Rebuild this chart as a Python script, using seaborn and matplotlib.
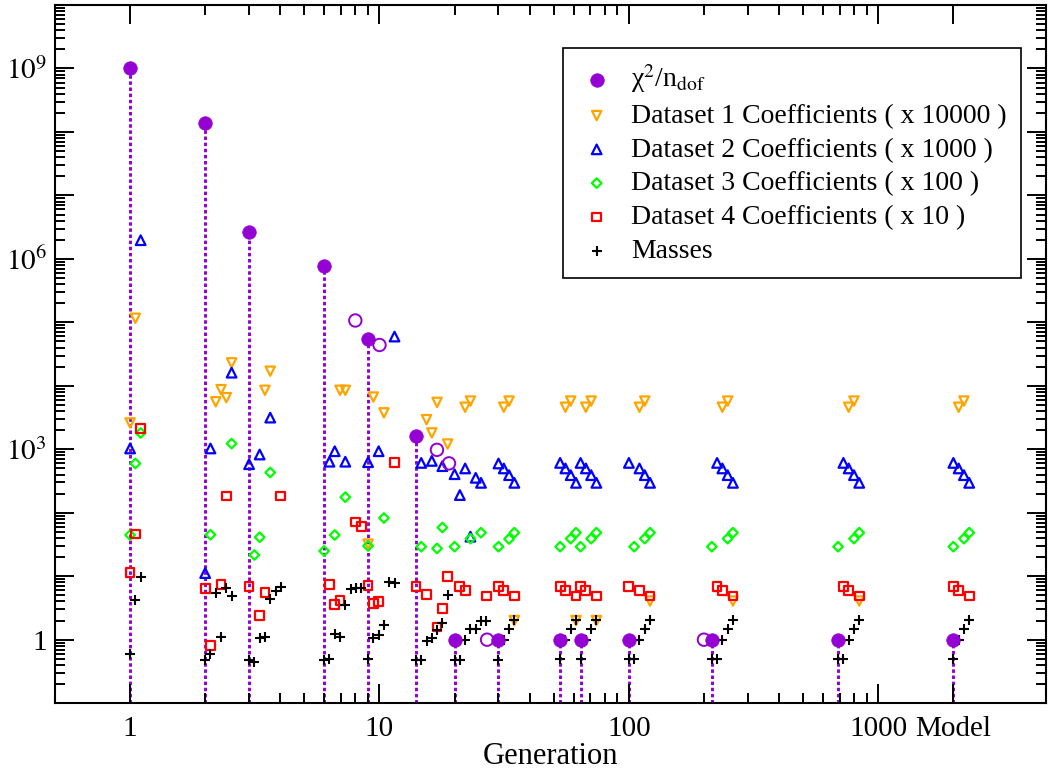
import matplotlib
matplotlib.use('Agg')
import matplotlib.pyplot as plt
import matplotlib.ticker as mticker
import numpy as np
import pandas as pd
import seaborn as sns

# generations where the fit was evaluated (2000 is the "Model" column)
generations = [1, 2, 3, 6, 9, 14, 20, 30, 53, 64, 100, 215, 690, 2000]
chi2_ndof = [1.0e9, 1.36e8, 2.67e6, 7.6e5, 5.5e4, 1.6e3, 1.0, 1.0, 1.0, 1.0, 1.0, 1.0, 1.0, 1.0]

# other trial fits (open circles, no legend entry)
trial_gen = [8, 10, 17, 19, 27, 200]
trial_chi2 = [1.07e5, 4.4e4, 980, 600, 1.0, 1.0]

# (generation, parameter index, value)
dataset1 = [(1, 0, 2600), (1, 1, 1.16e5),
            (2, 2, 5600), (2, 3, 8700), (2, 4, 6500), (2, 5, 2.3e4),
            (3, 3, 8500), (3, 4, 1.7e4),
            (6, 3, 8500), (6, 4, 8500),
            (9, 0, 32), (9, 1, 6650), (9, 3, 3750),
            (14, 2, 2930), (14, 3, 1810), (14, 4, 5480), (14, 6, 1210),
            (20, 2, 4600), (20, 3, 5750),
            (30, 1, 4600), (30, 2, 5750), (30, 3, 2.0),
            (53, 1, 4600), (53, 2, 5750), (53, 3, 2.0),
            (64, 1, 4600), (64, 2, 5750), (64, 3, 2.0),
            (100, 2, 4600), (100, 3, 5750), (100, 4, 4.06),
            (215, 2, 4600), (215, 3, 5750), (215, 4, 4.06),
            (690, 2, 4600), (690, 3, 5750), (690, 4, 4.06),
            (2000, 1, 4600), (2000, 2, 5750)]

dataset2 = [(1, 0, 1030), (1, 2, 1.97e6),
            (2, 0, 11.2), (2, 1, 1030), (2, 5, 1.61e4),
            (3, 0, 582), (3, 2, 827), (3, 4, 3155),
            (6, 1, 637), (6, 2, 932), (6, 4, 637),
            (9, 0, 626), (9, 2, 932), (9, 5, 5.97e4),
            (14, 1, 610), (14, 3, 656), (14, 5, 542),
            (20, 0, 405), (20, 1, 190), (20, 2, 499), (20, 3, 42), (20, 4, 355), (20, 5, 296),
            (30, 0, 597), (30, 1, 499), (30, 2, 391), (30, 3, 296),
            (53, 0, 610), (53, 1, 499), (53, 2, 391), (53, 3, 296),
            (64, 0, 610), (64, 1, 499), (64, 2, 391), (64, 3, 296),
            (100, 0, 610), (100, 2, 499), (100, 3, 391), (100, 4, 296),
            (215, 1, 610), (215, 2, 499), (215, 3, 391), (215, 4, 296),
            (690, 1, 610), (690, 2, 499), (690, 3, 391), (690, 4, 296),
            (2000, 0, 610), (2000, 1, 499), (2000, 2, 391), (2000, 3, 296)]

dataset3 = [(1, 0, 44.6), (1, 1, 597), (1, 2, 1810),
            (2, 1, 45.1), (2, 5, 1230),
            (3, 1, 21.6), (3, 2, 41.1), (3, 4, 431),
            (6, 0, 25.0), (6, 2, 44.6), (6, 4, 176),
            (9, 0, 30.0), (9, 3, 82.6),
            (14, 1, 29.2), (14, 4, 27.4), (14, 5, 58.5),
            (20, 0, 29.2), (20, 3, 39.1), (20, 5, 48.5),
            (30, 0, 29.2), (30, 2, 38.6), (30, 3, 48.5),
            (53, 0, 29.2), (53, 2, 39.1), (53, 3, 48.5),
            (64, 0, 29.2), (64, 2, 39.1), (64, 3, 48.5),
            (100, 1, 29.2), (100, 3, 39.1), (100, 4, 48.5),
            (215, 0, 29.2), (215, 3, 39.1), (215, 4, 48.5),
            (690, 0, 29.2), (690, 3, 39.1), (690, 4, 48.5),
            (2000, 0, 29.2), (2000, 2, 39.1), (2000, 3, 48.5)]

dataset4 = [(1, 0, 11.3), (1, 1, 46.3), (1, 2, 2120),
            (2, 0, 6.4), (2, 1, 0.80), (2, 3, 7.39), (2, 4, 183),
            (3, 0, 6.88), (3, 2, 2.38), (3, 3, 5.48), (3, 6, 183),
            (6, 1, 7.31), (6, 2, 3.55), (6, 3, 4.14), (6, 6, 71.4), (6, 7, 60.7),
            (9, 0, 7.13), (9, 1, 3.68), (9, 2, 3.95), (9, 5, 626),
            (14, 0, 6.80), (14, 2, 5.15), (14, 4, 1.58), (14, 5, 3.10), (14, 6, 9.77),
            (20, 1, 6.88), (20, 2, 5.89), (20, 6, 4.86),
            (30, 0, 6.88), (30, 1, 5.89), (30, 3, 4.86),
            (53, 0, 6.88), (53, 1, 5.89), (53, 3, 4.86),
            (64, 0, 6.88), (64, 1, 5.89), (64, 3, 4.86),
            (100, 0, 6.88), (100, 2, 5.89), (100, 4, 4.86),
            (215, 1, 6.88), (215, 2, 5.89), (215, 4, 4.86),
            (690, 1, 6.88), (690, 2, 5.89), (690, 4, 4.86),
            (2000, 0, 6.88), (2000, 1, 5.89), (2000, 3, 4.86)]

masses = [(1, 0, 0.596), (1, 1, 4.2), (1, 2, 9.66),
          (2, 0, 0.485), (2, 1, 0.596), (2, 2, 5.48), (2, 3, 1.11), (2, 4, 6.56), (2, 5, 4.86),
          (3, 0, 0.485), (3, 1, 0.451), (3, 2, 1.06), (3, 3, 1.10), (3, 4, 4.36), (3, 5, 5.82), (3, 6, 6.73),
          (6, 0, 0.473), (6, 1, 0.497), (6, 2, 1.21), (6, 3, 1.10), (6, 4, 3.55), (6, 5, 6.33), (6, 6, 6.49), (6, 7, 6.63),
          (9, 0, 0.497), (9, 1, 1.06), (9, 2, 1.19), (9, 3, 1.70), (9, 4, 8.07), (9, 5, 7.94),
          (14, 0, 0.485), (14, 1, 0.485), (14, 2, 0.965), (14, 3, 1.06), (14, 4, 1.44), (14, 5, 1.83), (14, 6, 5.04),
          (20, 0, 0.485), (20, 1, 0.485), (20, 2, 0.975), (20, 3, 1.47), (20, 4, 1.47), (20, 5, 1.99), (20, 6, 1.99),
          (30, 0, 0.485), (30, 1, 0.975), (30, 2, 1.47), (30, 3, 2.01),
          (53, 0, 0.497), (53, 1, 0.99), (53, 2, 1.45), (53, 3, 2.01),
          (64, 0, 0.497), (64, 1, 0.99), (64, 2, 1.45), (64, 3, 2.01),
          (100, 0, 0.497), (100, 1, 0.497), (100, 2, 0.99), (100, 3, 1.45), (100, 4, 2.01),
          (215, 0, 0.497), (215, 1, 0.497), (215, 2, 0.99), (215, 3, 1.45), (215, 4, 2.01),
          (690, 0, 0.497), (690, 1, 0.497), (690, 2, 0.99), (690, 3, 1.45), (690, 4, 2.01),
          (2000, 0, 0.497), (2000, 1, 0.99), (2000, 2, 1.45), (2000, 3, 2.01)]

x_ticks = [1, 10, 100, 1000, 2000]
x_tick_labels = ['1', '10', '100', '1000', 'Model']

PURPLE = '#9400d3'
DODGE = 1.05  # each parameter index is shifted right by this factor


def to_frame(points):
    df = pd.DataFrame(points, columns=['gen', 'k', 'value'])
    df['x'] = df['gen'] * DODGE ** df['k']
    return df


plt.rcParams['font.family'] = ['Liberation Serif', 'DejaVu Serif']
plt.rcParams['mathtext.fontset'] = 'stix'

fig, ax = plt.subplots(figsize=(10.48, 7.71), dpi=100)
fig.subplots_adjust(left=0.0525, right=0.998, top=0.9935, bottom=0.088)
ax.set_xscale('log')
ax.set_yscale('log')

# dotted drop lines from each chi2 point
ax.vlines(generations, 0.1, chi2_ndof, colors=PURPLE, linestyles=(0, (1.2, 0.9)), lw=2.1, zorder=1)

sns.scatterplot(x=generations, y=chi2_ndof, ax=ax, marker='o', s=95, color=PURPLE,
                edgecolor=PURPLE, linewidth=0.5, zorder=3, label='χ$^{2}$/n$_{\\mathrm{dof}}$')
sns.scatterplot(x=trial_gen, y=trial_chi2, ax=ax, marker='o', s=80, color=PURPLE,
                facecolor='none', edgecolor=PURPLE, linewidth=1.4, zorder=3)

styles = [
    (dataset1, 'v', 'orange', 45, 'Dataset 1 Coefficients ( x 10000 )'),
    (dataset2, '^', 'blue', 48, 'Dataset 2 Coefficients ( x 1000 )'),
    (dataset3, 'D', 'lime', 24, 'Dataset 3 Coefficients ( x 100 )'),
    (dataset4, 's', 'red', 40, 'Dataset 4 Coefficients ( x 10 )'),
]
for pts, mk, col, size, lab in styles:
    df = to_frame(pts)
    sns.scatterplot(data=df, x='x', y='value', ax=ax, marker=mk, s=size, color=col,
                    facecolor='none', edgecolor=col, linewidth=1.6, zorder=2, label=lab)

dm = to_frame(masses)
sns.scatterplot(data=dm, x='x', y='value', ax=ax, marker='+', s=55, color='black',
                linewidth=1.5, zorder=2, label='Masses')

ax.set_xlim(0.5, 4700)
ax.set_ylim(0.1, 1e10)

ax.xaxis.set_major_locator(mticker.FixedLocator(x_ticks))
ax.xaxis.set_major_formatter(mticker.FixedFormatter(x_tick_labels))
minor_x = [m * d for d in (1, 10, 100) for m in range(2, 10)]
ax.xaxis.set_minor_locator(mticker.FixedLocator(minor_x))
ax.xaxis.set_minor_formatter(mticker.NullFormatter())

ax.yaxis.set_major_locator(mticker.LogLocator(base=10, numticks=30))
ax.yaxis.set_minor_locator(mticker.LogLocator(base=10, subs=np.arange(2, 10), numticks=30))
ax.yaxis.set_minor_formatter(mticker.NullFormatter())


def ylabel_fmt(v, pos):
    e = int(round(np.log10(v)))
    if e == 0:
        return '1'
    if e % 3 == 0:
        return r'$10^{%d}$' % e
    return ''


ax.yaxis.set_major_formatter(mticker.FuncFormatter(ylabel_fmt))

ax.tick_params(which='both', direction='in', top=True, right=True, width=1.4, labelsize=21)
ax.tick_params(which='major', length=14)
ax.tick_params(axis='x', which='major', pad=9)
ax.tick_params(axis='y', which='major', pad=6)
ax.tick_params(which='minor', length=7)
for sp in ax.spines.values():
    sp.set_linewidth(1.5)

ax.set_xlabel('Generation', fontsize=22, labelpad=0)
ax.set_ylabel('')

leg = ax.legend(loc='upper left', bbox_to_anchor=(0.513, 0.938), borderaxespad=0,
                fontsize=20, frameon=True, fancybox=False, framealpha=1,
                handlelength=1.4, handletextpad=0.55, borderpad=0.5, labelspacing=0.3)
leg.get_frame().set_edgecolor('black')
leg.get_frame().set_linewidth(1.2)

plt.savefig('out.png', dpi=100)
